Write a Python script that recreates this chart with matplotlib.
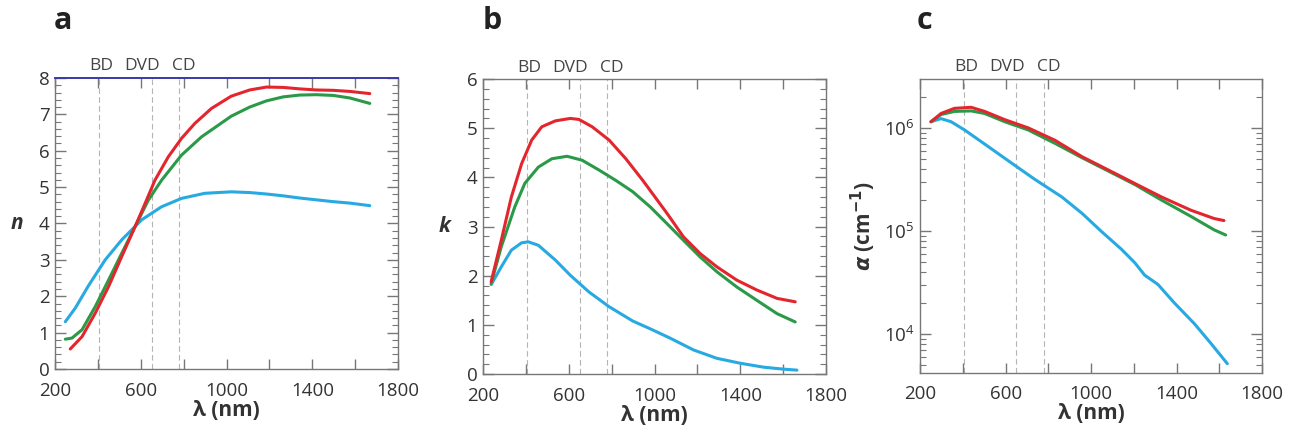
"""Optical constants n, k and absorption coefficient vs wavelength."""
import matplotlib

matplotlib.use("Agg")
import matplotlib.pyplot as plt  # noqa: E402
from matplotlib.ticker import (FixedLocator, MultipleLocator, AutoMinorLocator,  # noqa: E402
                               LogLocator, NullFormatter)

plt.rcParams["font.family"] = ["Open Sans", "DejaVu Sans"]

RED, GREEN, BLUE = "#e3262e", "#2a9a48", "#27a9e1"
SPINE = "#777777"
TXT = "#333333"

# disc laser wavelengths (nm)
disc_names = ["BD", "DVD", "CD"]
disc_wl = [405, 650, 780]
disc_label_x = [415, 605, 800]
x_major = [200, 600, 1000, 1400, 1800]
x_minor = [400, 800, 1200, 1600]

# panel a: refractive index n
a_red_x = [271, 326, 388, 450, 511, 573, 620, 666, 728, 790, 852, 929, 1022, 1108, 1186, 1264, 1341, 1419, 1497, 1575, 1668]
a_red_y = [0.55, 0.89, 1.54, 2.27, 3.09, 3.91, 4.55, 5.19, 5.83, 6.34, 6.75, 7.16, 7.5, 7.67, 7.75, 7.74, 7.7, 7.67, 7.66, 7.63, 7.57]
a_grn_x = [248, 279, 326, 388, 450, 511, 573, 635, 697, 790, 883, 1022, 1108, 1186, 1264, 1341, 1419, 1497, 1575, 1668]
a_grn_y = [0.82, 0.85, 1.08, 1.72, 2.45, 3.18, 3.91, 4.64, 5.19, 5.88, 6.38, 6.95, 7.2, 7.37, 7.48, 7.53, 7.54, 7.52, 7.45, 7.3]
a_blu_x = [248, 295, 357, 434, 511, 604, 697, 790, 899, 1022, 1108, 1186, 1264, 1341, 1419, 1497, 1575, 1668]
a_blu_y = [1.3, 1.68, 2.3, 3.0, 3.55, 4.1, 4.46, 4.69, 4.83, 4.87, 4.85, 4.81, 4.76, 4.7, 4.65, 4.6, 4.56, 4.49]

# panel b: extinction coefficient k
b_red_x = [238, 285, 332, 380, 427, 474, 537, 607, 647, 709, 788, 866, 945, 1058, 1135, 1213, 1291, 1384, 1477, 1571, 1656]
b_red_y = [1.88, 2.72, 3.6, 4.28, 4.76, 5.03, 5.15, 5.2, 5.18, 5.03, 4.76, 4.38, 3.94, 3.27, 2.79, 2.45, 2.18, 1.91, 1.71, 1.54, 1.47]
b_grn_x = [238, 285, 348, 395, 458, 521, 592, 662, 741, 819, 898, 980, 1058, 1135, 1213, 1291, 1384, 1477, 1571, 1656]
b_grn_y = [1.84, 2.59, 3.4, 3.88, 4.21, 4.38, 4.43, 4.35, 4.15, 3.94, 3.71, 3.4, 3.06, 2.72, 2.38, 2.08, 1.77, 1.5, 1.23, 1.06]
b_blu_x = [238, 285, 332, 380, 411, 458, 537, 607, 694, 788, 898, 980, 1073, 1182, 1291, 1400, 1509, 1602, 1664]
b_blu_y = [1.82, 2.18, 2.52, 2.67, 2.69, 2.62, 2.32, 2.01, 1.67, 1.37, 1.08, 0.92, 0.73, 0.49, 0.32, 0.22, 0.14, 0.1, 0.08]

# panel c: absorption coefficient alpha (cm^-1), given as log10
c_red_x = [251, 298, 361, 439, 502, 596, 706, 831, 958, 1082, 1205, 1329, 1468, 1576, 1622]
c_red_lg = [6.06, 6.14, 6.19, 6.2, 6.16, 6.08, 6.0, 5.88, 5.72, 5.59, 5.46, 5.33, 5.2, 5.12, 5.1]
c_grn_x = [251, 298, 361, 439, 502, 596, 706, 831, 958, 1082, 1205, 1329, 1468, 1576, 1630]
c_grn_lg = [6.06, 6.13, 6.16, 6.165, 6.14, 6.06, 5.98, 5.85, 5.71, 5.58, 5.45, 5.3, 5.14, 5.01, 4.96]
c_blu_x = [251, 298, 345, 408, 518, 627, 737, 863, 958, 1051, 1143, 1205, 1251, 1313, 1390, 1483, 1560, 1638]
c_blu_lg = [6.06, 6.09, 6.06, 5.98, 5.82, 5.66, 5.5, 5.33, 5.17, 4.99, 4.82, 4.69, 4.57, 4.48, 4.3, 4.1, 3.91, 3.71]


def style_axes(ax):
    for s in ax.spines.values():
        s.set_color(SPINE)
        s.set_linewidth(1.0)
    ax.set_xlim(200, 1800)
    ax.xaxis.set_major_locator(FixedLocator(x_major))
    ax.xaxis.set_minor_locator(FixedLocator(x_minor))
    ax.tick_params(which="both", direction="in", top=True, right=True, colors=SPINE,
                   labelcolor=TXT, labelsize=13.5)
    ax.tick_params(axis="x", which="both", length=7, width=1.0, pad=9)
    ax.tick_params(axis="y", which="major", length=8, width=1.0, pad=4)
    ax.tick_params(axis="y", which="minor", length=4, width=0.8)
    ax.set_xlabel("λ (nm)", fontsize=15, fontweight="bold", color=TXT, labelpad=0)
    for wl in disc_wl:
        ax.axvline(wl, color="#b4b4b4", lw=0.8, ls=(0, (5, 3)), zorder=1)
    for name, x in zip(disc_names, disc_label_x):
        ax.text(x, 1.012, name, transform=ax.get_xaxis_transform(), ha="center",
                va="bottom", fontsize=12.5, color="#444444")


def curves(ax, sets):
    for x, y, c in sets:
        ax.plot(x, y, color=c, lw=2.2, zorder=3, solid_capstyle="round")


fig = plt.figure(figsize=(12.95, 4.37), dpi=100)

ax_a = fig.add_axes([0.0425, 0.1556, 0.2649, 0.666])
style_axes(ax_a)
curves(ax_a, [(a_blu_x, a_blu_y, BLUE), (a_grn_x, a_grn_y, GREEN), (a_red_x, a_red_y, RED)])
ax_a.set_ylim(0, 8)
ax_a.yaxis.set_major_locator(MultipleLocator(1))
ax_a.yaxis.set_minor_locator(AutoMinorLocator(5))
ax_a.spines["top"].set_color("#3a3aa8")
ax_a.spines["top"].set_linewidth(1.4)
ax_a.set_ylabel("n", fontsize=15, fontweight="bold", style="italic", rotation=0,
                color=TXT, labelpad=16, va="center")

ax_b = fig.add_axes([0.373, 0.144, 0.2649, 0.675])
style_axes(ax_b)
curves(ax_b, [(b_blu_x, b_blu_y, BLUE), (b_grn_x, b_grn_y, GREEN), (b_red_x, b_red_y, RED)])
ax_b.set_ylim(0, 6)
ax_b.yaxis.set_major_locator(MultipleLocator(1))
ax_b.yaxis.set_minor_locator(AutoMinorLocator(5))
ax_b.set_ylabel("k", fontsize=15, fontweight="bold", style="italic", rotation=0,
                color=TXT, labelpad=16, va="center")

ax_c = fig.add_axes([0.7105, 0.1465, 0.2640, 0.673])
style_axes(ax_c)
curves(ax_c, [(c_blu_x, [10 ** v for v in c_blu_lg], BLUE),
              (c_grn_x, [10 ** v for v in c_grn_lg], GREEN),
              (c_red_x, [10 ** v for v in c_red_lg], RED)])
ax_c.set_yscale("log")
ax_c.set_ylim(10 ** 3.62, 10 ** 6.476)
ax_c.yaxis.set_major_locator(LogLocator(base=10, numticks=10))
ax_c.yaxis.set_minor_locator(LogLocator(base=10, subs=range(2, 10), numticks=10))
ax_c.yaxis.set_minor_formatter(NullFormatter())
ax_c.set_ylabel(r"$\mathbfit{\alpha}$ (cm$^{\mathbf{-1}}$)", fontsize=15, fontweight="bold",
                color=TXT, labelpad=4)

for ax, lab, dx in [(ax_a, "a", -0.005), (ax_b, "b", 0.0), (ax_c, "c", -0.01)]:
    ax.text(dx, 1.145, lab, transform=ax.transAxes, fontsize=22, fontweight="bold",
            color="#222222", ha="left", va="bottom")

fig.savefig("out.png", dpi=100)
